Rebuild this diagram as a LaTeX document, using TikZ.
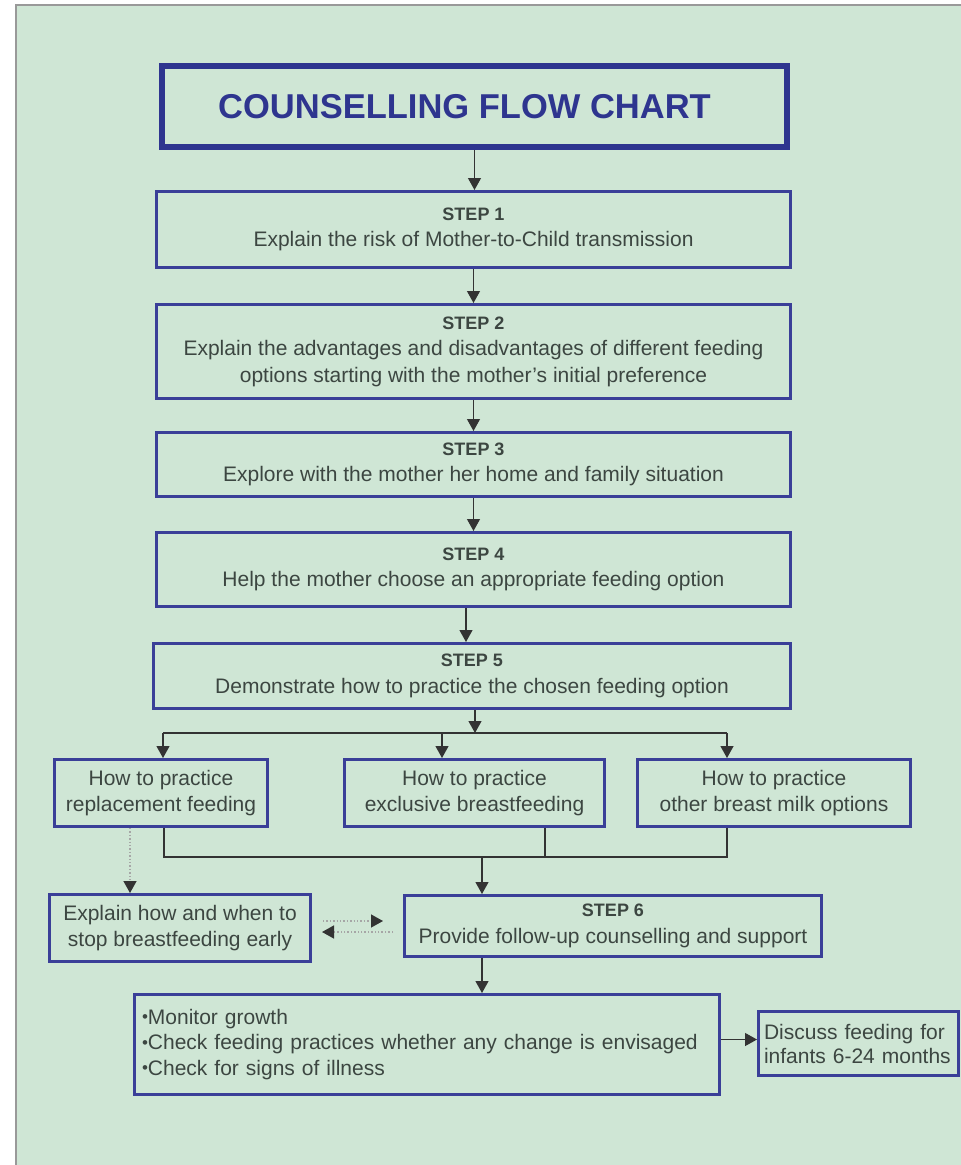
\documentclass[tikz,border=0pt]{standalone}
\usepackage{fontspec}
\setmainfont{Liberation Sans}
\usetikzlibrary{arrows.meta}
\definecolor{chartbg}{HTML}{CFE6D5}
\definecolor{boxblue}{HTML}{3A3F98}
\definecolor{titleblue}{HTML}{2E358F}
\definecolor{txtgray}{HTML}{3C4641}
\definecolor{linegray}{HTML}{333333}
\newcommand{\steplabel}[1]{{\fontsize{18}{27}\selectfont\bfseries STEP #1}}
\newcommand{\dotitem}{{\fontsize{17}{17}\selectfont\raisebox{1.5pt}{•}}}
\tikzstyle{title} = [rectangle, draw=titleblue, line width=6pt, text=titleblue, font=\fontsize{34.5}{40}\selectfont\bfseries, minimum width=625pt, minimum height=81pt]
\tikzstyle{stepbox} = [rectangle, draw=boxblue, line width=3pt, text=txtgray, align=center, font=\fontsize{21}{26.5}\selectfont, inner sep=0pt]
\tikzstyle{arrow} = [draw=linegray, line width=1.2pt, -{Triangle[width=13pt,length=12pt]}]
\tikzstyle{joint} = [draw=linegray, line width=1.2pt]
\tikzstyle{dotarrow} = [draw=gray!70, line width=1.4pt, dotted, -{Triangle[width=13pt,length=12pt,color=linegray]}]

\begin{document}
\begin{tikzpicture}[x=1pt,y=-1pt]
    \useasboundingbox (0,0) rectangle (961,1165);
    \fill[chartbg] (16,5) rectangle (961,1165);
    \draw[gray!80, line width=1.5pt] (16,1165) -- (16,5) -- (961,5);
    % main steps
    \node[title] (title) at (474.5,106.5) {\hspace*{-20pt}COUNSELLING FLOW CHART};
    \node[stepbox, minimum width=634pt, minimum height=76pt] (s1) at (473.5,229.5) {\steplabel{1}\\Explain the risk of Mother-to-Child transmission};
    \node[stepbox, minimum width=634pt, minimum height=94pt] (s2) at (473.5,351.5) {\steplabel{2}\\Explain the advantages and disadvantages of different feeding\\options starting with the mother's initial preference};
    \node[stepbox, minimum width=634pt, minimum height=64pt] (s3) at (473.5,464.5) {\steplabel{3}\\Explore with the mother her home and family situation};
    \node[stepbox, minimum width=634pt, minimum height=74pt] (s4) at (473.5,569.5) {\steplabel{4}\\Help the mother choose an appropriate feeding option};
    \node[stepbox, minimum width=637pt, minimum height=65pt] (s5) at (472,676) {\steplabel{5}\\Demonstrate how to practice the chosen feeding option};
    % options
    \node[stepbox, minimum width=213pt, minimum height=67pt] (a) at (161,793) {How to practice\\replacement feeding};
    \node[stepbox, minimum width=260pt, minimum height=67pt] (b) at (474.5,793) {How to practice\\exclusive breastfeeding};
    \node[stepbox, minimum width=273pt, minimum height=67pt] (c) at (774,793) {How to practice\\other breast milk options};
    \node[stepbox, minimum width=261pt, minimum height=67pt] (dd) at (180,928) {Explain how and when to\\stop breastfeeding early};
    \node[stepbox, minimum width=417pt, minimum height=61pt] (s6) at (613,926) {\steplabel{6}\\Provide follow-up counselling and support};
    \node[stepbox, align=left, text width=570pt, minimum width=585pt, minimum height=100pt, font=\fontsize{21}{25.5}\selectfont] (e) at (427,1044.5) {\dotitem Monitor growth\\\dotitem Check feeding practices whether any change is envisaged\\\dotitem Check for signs of illness};
    \node[stepbox, align=left, text width=189pt, minimum width=200pt, minimum height=64pt, font=\fontsize{21}{24}\selectfont] (f) at (858.5,1043.5) {Discuss feeding for\\infants 6-24 months};
    % connectors
    \coordinate (j) at (475,733);
    \coordinate (jl) at (163,733);
    \coordinate (jm) at (442,733);
    \coordinate (jr) at (727,733);
    \coordinate (kl) at (164,857);
    \coordinate (km) at (545,857);
    \coordinate (kr) at (727,857);
    \coordinate (k) at (482,857);
    \coordinate (dl) at (130,857);
    \draw[arrow] (title.south) -- (title.south |- s1.north);
    \draw[arrow] (s1.south) -- (s2.north);
    \draw[arrow] (s2.south) -- (s3.north);
    \draw[arrow] (s3.south) -- (s4.north);
    \draw[arrow] ([xshift=-7.5pt]s4.south) -- ([xshift=-6pt]s5.north);
    \draw[arrow] ([xshift=3pt]s5.south) -- (j);
    \draw[joint] (jl) -- (jr);
    \draw[arrow] (jl) -- (jl |- a.north);
    \draw[arrow] (jm) -- (jm |- b.north);
    \draw[arrow] (jr) -- (jr |- c.north);
    \draw[joint] (kl |- a.south) -- (kl) -- (kr) -- (kr |- c.south);
    \draw[joint] (km |- b.south) -- (km);
    \draw[arrow] (k) -- (k |- s6.north);
    \draw[dotarrow] (dl |- a.south) -- (dl |- dd.north);
    \draw[dotarrow] ([xshift=11pt,yshift=7pt]dd.east) -- ([xshift=-20pt,yshift=5pt]s6.west);
    \draw[dotarrow] ([xshift=-10pt,yshift=-6pt]s6.west) -- ([xshift=10pt,yshift=-4pt]dd.east);
    \draw[arrow] (k |- s6.south) -- (k |- e.north);
    \coordinate (ee) at ([yshift=5pt]e.east);
    \draw[arrow] (ee) -- (ee -| f.west);
\end{tikzpicture}
\end{document}
